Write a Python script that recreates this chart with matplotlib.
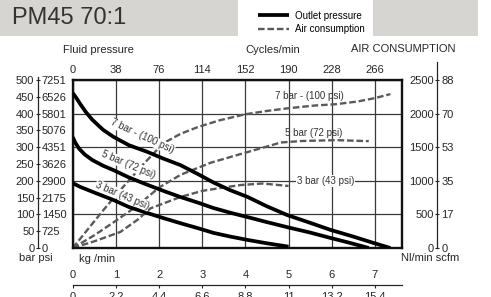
import matplotlib
matplotlib.use("Agg")
import matplotlib.pyplot as plt
from matplotlib.patches import Rectangle

plt.rcParams['font.family'] = ['Liberation Sans', 'DejaVu Sans']

W, H = 491, 297
TXT = '#262626'

# outlet pressure (bar) vs fluid flow (kg/min)
out7_kg = [0, 0.08, 0.17, 0.3, 0.45, 0.7, 0.94, 1.3, 1.73, 2.1, 2.49, 2.9, 3.26, 3.65, 4.05, 4.5, 4.97, 5.5, 5.97, 6.5, 6.97, 7.36]
out7_bar = [461, 447, 429, 405, 382, 352, 331, 306, 286, 266, 247, 220, 195, 172, 152, 124, 98, 75, 54, 34, 15, 0]
out5_kg = [0, 0.06, 0.15, 0.28, 0.45, 0.7, 0.94, 1.3, 1.73, 2.1, 2.49, 2.9, 3.26, 3.65, 4.05, 4.5, 4.97, 5.5, 5.97, 6.4, 6.86]
out5_bar = [330, 313, 295, 278, 262, 245, 232, 210, 188, 170, 152, 135, 119, 105, 92, 77, 62, 46, 30, 16, 0]
out3_kg = [0, 0.17, 0.5, 0.94, 1.3, 1.73, 2.1, 2.49, 2.9, 3.26, 3.65, 4.05, 4.5, 5.0]
out3_bar = [193, 182, 165, 143, 122, 104, 89, 74, 59, 45, 34, 24, 14, 4]

# air consumption (Nl/min) vs fluid flow (kg/min)
air7_kg = [0, 0.35, 0.71, 1.1, 1.61, 2.1, 2.5, 2.9, 3.4, 4.0, 4.5, 5.0, 5.6, 6.1, 6.6, 7.0, 7.36]
air7_q = [0, 280, 565, 860, 1230, 1560, 1700, 1800, 1900, 1990, 2040, 2080, 2120, 2140, 2180, 2230, 2290]
air5_kg = [0, 0.5, 0.94, 1.5, 2.0, 2.5, 3.2, 3.9, 4.5, 4.82, 5.3, 6.1, 6.86]
air5_q = [0, 190, 380, 630, 900, 1090, 1270, 1400, 1510, 1570, 1592, 1605, 1590]
air3_kg = [0, 0.5, 1.1, 1.5, 1.8, 2.5, 3.0, 3.42, 3.89, 4.4, 5.0]
air3_q = [0, 100, 238, 420, 590, 760, 850, 893, 937, 960, 923]

# axis scales
kg_ticks = [0, 1, 2, 3, 4, 5, 6, 7]
cyc_ticks = [0, 38, 76, 114, 152, 190, 228, 266]
lb_ticks = [0, 2.2, 4.4, 6.6, 8.8, 11, 13.2, 15.4]
lb_labels = ['0', '2.2', '4.4', '6.6', '8.8', '11', '13.2', '15.4']
bar_ticks = [0, 50, 100, 150, 200, 250, 300, 350, 400, 450, 500]
psi_labels = ['0', '725', '1450', '2175', '2900', '3626', '4351', '5076', '5801', '6526', '7251']
nl_ticks = [0, 500, 1000, 1500, 2000, 2500]
scfm_labels = ['0', '17', '35', '53', '70', '88']

fig = plt.figure(figsize=(W / 100, H / 100), dpi=100)


def box(l, t, r, b):
    return [l / W, 1 - b / H, (r - l) / W, (b - t) / H]


# grey header blocks
fig.add_artist(Rectangle((0, 1 - 36 / H), 238 / W, 36 / H, transform=fig.transFigure,
                         facecolor='#d6d5d1', edgecolor='none'))
fig.add_artist(Rectangle((373 / W, 1 - 36 / H), 105 / W, 36 / H, transform=fig.transFigure,
                         facecolor='#d6d5d1', edgecolor='none'))
fig.text(12 / W, 1 - 18.5 / H, 'PM45 70:1', fontsize=17, va='center', color='#333333')

# main plot: air consumption scale with grid
ax = fig.add_axes(box(72.8, 80, 402, 248))
ax.set_xlim(0, 7.63)
ax.set_ylim(0, 2500)
ax.set_xticks(kg_ticks, [str(k) for k in kg_ticks])
ax.set_yticks(nl_ticks)
ax.tick_params(axis='x', length=0, pad=15.5, labelsize=8, labelcolor=TXT)
ax.tick_params(axis='y', length=0, labelleft=False)
ax.grid(color='#3a3a3a', lw=0.9)
for s in ax.spines.values():
    s.set_linewidth(1.7)
    s.set_color('#111111')

top = ax.secondary_xaxis('top', functions=(lambda k: k * 38, lambda c: c / 38))
top.set_xticks(cyc_ticks, [str(c) for c in cyc_ticks])
top.tick_params(length=0, pad=3.5, labelsize=8, labelcolor=TXT)
top.spines['top'].set_visible(False)

low = ax.secondary_xaxis((248 - 285) / 168, functions=(lambda k: k * 2.2, lambda lb: lb / 2.2))
low.set_xticks(lb_ticks, lb_labels)
low.tick_params(direction='out', length=2.5, width=0.8, pad=2.5, labelsize=8,
                colors=TXT)
low.spines['bottom'].set_linewidth(0.9)
low.spines['bottom'].set_color(TXT)

dash = dict(color='#5a5a5a', lw=1.7, dashes=(2.8, 1.2))
h_air, = ax.plot(air7_kg, air7_q, label='Air consumption', **dash)
ax.plot(air5_kg, air5_q, **dash)
ax.plot(air3_kg, air3_q, **dash)

lbl = dict(fontsize=7, color='#333333', ha='center', va='center')
ax.text(5.49, 2262, '7 bar - (100 psi)', **lbl)
ax.text(5.58, 1711, '5 bar (72 psi)', **lbl)
ax.text(5.86, 997, '3 bar (43 psi)',
        bbox=dict(facecolor='white', edgecolor='none', pad=0.5), **lbl)

# outlet pressure on bar scale
axP = ax.twinx()
axP.set_ylim(0, 500)
axP.axis('off')
solid = dict(color='black', lw=2.7, solid_capstyle='butt')
h_out, = axP.plot(out7_kg, out7_bar, label='Outlet pressure', **solid)
axP.plot(out5_kg, out5_bar, **solid)
axP.plot(out3_kg, out3_bar, **solid)

wb = dict(facecolor='white', edgecolor='none', pad=0.3)
axP.text(1.61, 332, '7 bar - (100 psi)', rotation=-25, rotation_mode='anchor', bbox=wb, **lbl)
axP.text(1.28, 248, '5 bar (72 psi)', rotation=-23, rotation_mode='anchor', bbox=wb, **lbl)
axP.text(1.15, 157, '3 bar (43 psi)', rotation=-23, rotation_mode='anchor', bbox=wb, **lbl)

# left scale: bar / psi
axL = fig.add_axes(box(37.5, 77, 37.51, 248))
axL.set_ylim(0, 500 * 171 / 168)
axL.set_xticks([])
axL.set_yticks(bar_ticks, [str(b) for b in bar_ticks])
axL.tick_params(axis='y', direction='inout', length=3.5, width=0.8, pad=0.5,
                labelsize=8, colors=TXT)
axL.patch.set_visible(False)
for side in ['top', 'bottom', 'right']:
    axL.spines[side].set_visible(False)
axL.spines['left'].set_linewidth(0.9)
axL.spines['left'].set_color(TXT)
axL2 = axL.twinx()
axL2.set_ylim(axL.get_ylim())
axL2.set_yticks(bar_ticks, psi_labels)
axL2.tick_params(axis='y', length=0, pad=3, labelsize=8, labelcolor=TXT)
for s in axL2.spines.values():
    s.set_visible(False)

# right scale: Nl/min / scfm
axR = fig.add_axes(box(437, 62, 437.01, 248))
axR.set_ylim(0, 2500 * 186 / 168)
axR.set_xticks([])
axR.set_yticks(nl_ticks, [str(n) for n in nl_ticks])
axR.tick_params(axis='y', direction='inout', length=3.5, width=0.8, pad=0.5,
                labelsize=8, colors=TXT)
axR.patch.set_visible(False)
for side in ['top', 'bottom', 'right']:
    axR.spines[side].set_visible(False)
axR.spines['left'].set_linewidth(0.9)
axR.spines['left'].set_color(TXT)
axR2 = axR.twinx()
axR2.set_ylim(axR.get_ylim())
axR2.set_yticks(nl_ticks, scfm_labels)
axR2.tick_params(axis='y', length=0, pad=3, labelsize=8, labelcolor=TXT)
for s in axR2.spines.values():
    s.set_visible(False)

# axis titles
t = dict(fontsize=8, color=TXT, va='center')
fig.text(98 / W, 1 - 50 / H, 'Fluid pressure', ha='center', **t)
fig.text(273 / W, 1 - 50 / H, 'Cycles/min', ha='center', **t)
fig.text(403 / W, 1 - 49 / H, 'AIR CONSUMPTION', ha='center', **t)
fig.text(36 / W, 1 - 258 / H, 'bar psi', ha='center', **t)
fig.text(430 / W, 1 - 258 / H, 'Nl/min scfm', ha='center', **t)
fig.text(79 / W, 1 - 259 / H, 'kg /min', ha='left', **t)

fig.legend(handles=[h_out, h_air], loc='center left', bbox_to_anchor=(258 / W, 1 - 22.5 / H),
           frameon=False, fontsize=7, handlelength=3.2, handletextpad=0.6,
           labelspacing=0.35, borderpad=0, borderaxespad=0)

fig.savefig('out.png', dpi=100)
